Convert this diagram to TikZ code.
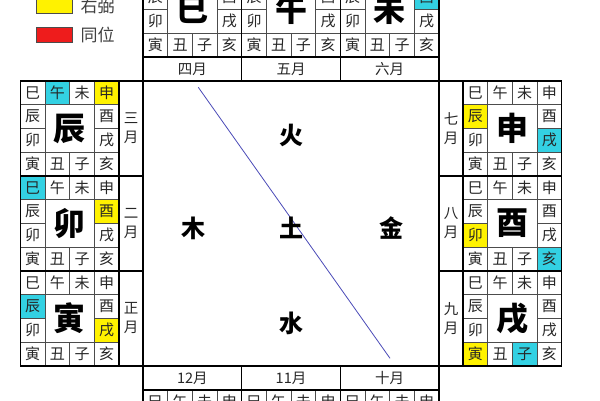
\documentclass[tikz,border=0pt]{standalone}
\usepackage{fontspec}
\setmainfont{Noto Sans CJK SC}
\usetikzlibrary{positioning}

\definecolor{zuofu}{HTML}{33D1E3}
\definecolor{youbi}{HTML}{FFF200}
\definecolor{tongwei}{HTML}{EE1C1C}
\definecolor{diagline}{HTML}{4A4AB8}

\tikzset{
  cell/.style={draw=black!70, line width=0.6pt, minimum width=24.67pt, minimum height=23.75pt,
    inner sep=0pt, font=\fontsize{15}{15}\selectfont, text=black!85},
  bigchar/.style={font=\fontsize{32}{32}\selectfont\bfseries, inner sep=0pt},
  monthcell/.style={draw, line width=1.6pt, inner sep=0pt, align=center,
    font=\fontsize{14.5}{19}\selectfont, text=black!85},
  element/.style={font=\fontsize{24}{24}\selectfont\bfseries, inner sep=0pt},
  frame/.style={line width=1.6pt},
  legendbox/.style={draw=black!70, line width=0.8pt, minimum width=36pt, minimum height=15pt, inner sep=0pt},
  legendtext/.style={font=\fontsize{17}{17}\selectfont, text=black!75, inner sep=0pt},
}

% one palace: name, x, y of top left corner, big char, zuofu cell, youbi cell
\newcommand{\palace}[6]{
  \foreach \k/\br/\c/\r in {1/子/2/3, 2/丑/1/3, 3/寅/0/3, 4/卯/0/2, 5/辰/0/1, 6/巳/0/0,
      7/午/1/0, 8/未/2/0, 9/申/3/0, 10/酉/3/1, 11/戌/3/2, 12/亥/3/3}{
    \def\cellfill{white}
    \ifnum\k=#5 \def\cellfill{zuofu}\fi
    \ifnum\k=#6 \ifnum#5=#6 \def\cellfill{tongwei}\else\def\cellfill{youbi}\fi\fi
    \node[cell, fill=\cellfill] (#1-\k) at ({#2+(\c+0.5)*24.67}, {#3+(\r+0.5)*23.75}) {\br};
  }
  \node[bigchar] (#1) at ({#2+2*24.67}, {#3+2*23.75}) {#4};
  \draw[frame] (#2,#3) rectangle ++(98.67,95);
}

\begin{document}
\begin{tikzpicture}[x=1pt, y=-1pt]
    \path[use as bounding box, clip] (0,0) rectangle (600,400);
    \fill[white] (0,0) rectangle (600,400);

    % Legend
    \node[legendbox, fill=youbi] (youbi-key) at (54.7,5.8) {};
    \node[legendtext, right=7.3pt of youbi-key] (youbi-text) {右弼};
    \node[legendbox, fill=tongwei] (tongwei-key) at (54.7,34.5) {};
    \node[legendtext, right=7.3pt of tongwei-key] (tongwei-text) {同位};

    % Palaces, top row
    \foreach \n/\x/\b/\m/\zf/\yb in {si/143/巳/四月/8/8, wu/241.67/午/五月/9/7, wei/340.33/未/六月/10/6}{
        \palace{\n}{\x}{-38}{\b}{\zf}{\yb}
        \node[monthcell, minimum width=98.67pt, minimum height=24pt] (\n-m) at ({\x+49.33},69) {\m};
    }
    % left column
    \foreach \n/\y/\b/\m/\zf/\yb in {chen/81/辰/{三\\月}/7/9, mao/176/卯/{二\\月}/6/10, yin/271/寅/{正\\月}/5/11}{
        \palace{\n}{20.33}{\y}{\b}{\zf}{\yb}
        \node[monthcell, minimum width=24pt, minimum height=95pt] (\n-m) at (131,{\y+47.5}) {\m};
    }
    % right column
    \foreach \n/\y/\b/\m/\zf/\yb in {shen/81/申/{七\\月}/11/5, you/176/酉/{八\\月}/12/4, xu/271/戌/{九\\月}/1/3}{
        \palace{\n}{463}{\y}{\b}{\zf}{\yb}
        \node[monthcell, minimum width=24pt, minimum height=95pt] (\n-m) at (451,{\y+47.5}) {\m};
    }
    % bottom row
    \foreach \n/\x/\b/\m/\zf/\yb in {chou/143/丑/12月/4/12, zi/241.67/子/11月/3/1, hai/340.33/亥/十月/2/2}{
        \palace{\n}{\x}{390}{\b}{\zf}{\yb}
        \node[monthcell, minimum width=98.67pt, minimum height=24pt] (\n-m) at ({\x+49.33},378) {\m};
    }

    % Centre
    \draw[frame] (143,81) rectangle (439,366);
    \coordinate (diag-a) at (198.3,87.3);
    \coordinate (diag-b) at (390,358.3);
    \draw[diagline, line width=0.8pt] (diag-a) -- (diag-b);

    \node[element] (tu) at (291.7,228) {土};
    \begin{scope}[on grid]
        \node[element, above=93pt of tu] (huo) {火};
        \node[element, below=95pt of tu] (shui) {水};
        \node[element, left=98.4pt of tu] (mu) {木};
        \node[element, right=100pt of tu] (jin) {金};
    \end{scope}
\end{tikzpicture}
\end{document}
